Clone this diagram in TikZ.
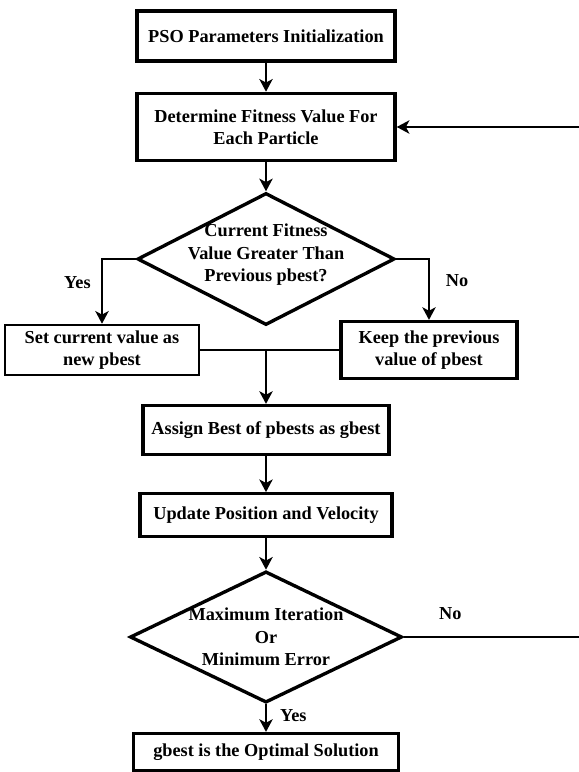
\documentclass[tikz,border=0pt]{standalone}
\usepackage{fontspec}
\setmainfont{Liberation Serif}
\usepackage{tikz}
\usetikzlibrary{arrows.meta,positioning,shapes.geometric,calc}

\begin{document}
\begin{tikzpicture}[
  x=0.025cm, y=-0.025cm,
  font=\fontsize{13}{16}\selectfont\bfseries,
  >={Stealth[length=9pt,width=9.5pt,inset=2.5pt]},
  stepbox/.style={
    draw=black,
    line width=2.4pt,
    rectangle,
    align=center,
    inner sep=2pt
  },
  decision/.style={
    draw=black,
    line width=2.4pt,
    diamond,
    inner sep=0pt
  },
  flow/.style={->, line width=1.5pt, black},
  link/.style={line width=1.5pt, black}
]

\useasboundingbox (0,0) rectangle (579,772);

\node[stepbox, minimum width=6.45cm, minimum height=1.25cm] (init) at (266,36)
{PSO Parameters Initialization};

\node[stepbox, minimum width=6.45cm, minimum height=1.68cm] (fitness) at (266,127)
{Determine Fitness Value For\\Each Particle};

\node[decision, minimum width=6.43cm, minimum height=3.3cm,
  label={[align=center, yshift=3pt]center:Current Fitness\\Value Greater Than\\Previous pbest?}] (compare) at (266,259) {};

\node[stepbox, line width=1.8pt, minimum width=4.85cm, minimum height=1.25cm] (setnew) at (102,350)
{Set current value as\\new pbest};

\node[stepbox, minimum width=4.4cm, minimum height=1.42cm] (keepold) at (429,350)
{Keep the previous\\value of pbest};

\node[stepbox, minimum width=6.15cm, minimum height=1.22cm] (gbest) at (266,430)
{Assign Best of pbests as gbest};

\node[stepbox, minimum width=6.3cm, minimum height=1.06cm] (update) at (266,515)
{Update Position and Velocity};

\node[decision, minimum width=6.8cm, minimum height=3.28cm,
  label={[align=center]center:Maximum Iteration\\Or\\Minimum Error}] (stopcheck) at (266,637) {};

\node[stepbox, minimum width=6.62cm, minimum height=0.92cm] (optimal) at (266,752)
{gbest is the Optimal Solution};

\coordinate (loop) at (590,637);

% Connectors
\draw[flow] (init.south) -- (fitness.north);
\draw[flow] (fitness.south) -- (compare.north);
\draw[flow] (compare.west) -| node[pos=0.68, left=4pt] {Yes} (setnew.north);
\draw[flow] (compare.east) -| node[pos=0.68, right=8pt] {No} (keepold.north);
\draw[link] (setnew.east) -- (keepold.west);
\draw[flow] (setnew.east -| gbest.north) -- (gbest.north);
\draw[flow] (gbest.south) -- (update.north);
\draw[flow] (update.south) -- (stopcheck.north);
\draw[flow] (stopcheck.south) -- node[pos=0.4, right=6pt] {Yes} (optimal.north);
\draw[flow] (stopcheck.east) -- node[pos=0.25, above=8pt] {No} (loop) |- (fitness.east);

\end{tikzpicture}
\end{document}
